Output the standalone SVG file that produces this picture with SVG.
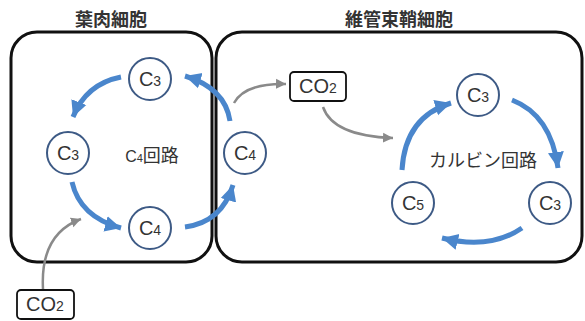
<svg xmlns="http://www.w3.org/2000/svg" width="585" height="321" viewBox="0 0 585 321">
<style>
.cell{fill:#fff;stroke:#111;stroke-width:3}
.node{fill:#fff;stroke:#3d5a85;stroke-width:2}
.lbl{font-family:"Liberation Sans",Arial,sans-serif;font-size:20px;fill:#333;text-anchor:middle}
.sub{font-size:14px}
.title{font-family:"Noto Sans CJK JP","Liberation Sans",sans-serif;font-size:18px;font-weight:bold;fill:#333;text-anchor:middle}
.cyc{font-family:"Noto Sans CJK JP","Liberation Sans",sans-serif;font-size:18px;fill:#333;text-anchor:middle}
.blue{fill:none;stroke:#4a86cc;stroke-width:5;marker-end:url(#ab)}
.gray{fill:none;stroke:#8a8a8a;stroke-width:2.5;marker-end:url(#ag)}
.box{fill:#fff;stroke:#111;stroke-width:1.8}
</style>
<defs>
<marker id="ab" markerUnits="userSpaceOnUse" markerWidth="18" markerHeight="18" viewBox="0 0 18 18" refX="16" refY="9" orient="auto"><path d="M0,1 L16,9 L0,17 Z" fill="#4a86cc"/></marker>
<marker id="ag" markerUnits="userSpaceOnUse" markerWidth="12" markerHeight="12" viewBox="0 0 12 12" refX="10" refY="6" orient="auto"><path d="M0,1 L10,6 L0,11 Z" fill="#8a8a8a"/></marker>
</defs>
<g id="mesophyll"><rect class="cell" x="11" y="32" width="201" height="230" rx="26"/><text class="title" x="111" y="26">葉肉細胞</text></g>
<g id="bundle"><rect class="cell" x="216" y="32" width="366" height="230" rx="26"/><text class="title" x="399" y="26">維管束鞘細胞</text></g>
<g id="c4label"><text class="cyc" x="152" y="162"><tspan font-family="Liberation Sans,sans-serif" font-size="16">C</tspan><tspan font-family="Liberation Sans,sans-serif" font-size="11">4</tspan>回路</text></g>
<g id="calvinlabel"><text class="cyc" x="483" y="167">カルビン回路</text></g>
<g id="connectors">
<path class="blue" d="M121,77 Q86,84 73,117"/>
<path class="blue" d="M72,182 Q80,217 121,228"/>
<path class="blue" d="M185,227 Q222,222 233,185"/>
<path class="blue" d="M230,121 Q225,88 185,76"/>
<path class="blue" d="M402,170 Q405,117 451,103"/>
<path class="blue" d="M512,100 Q551,115 558,168"/>
<path class="blue" d="M522,228 Q490,250 442,238"/>
<path class="gray" d="M43,289 Q40,234 81,219"/>
<path class="gray" d="M234,103 Q245,83 286,84"/>
<path class="gray" d="M323,107 Q333,136 393,138"/>
</g>
<g id="n_c3_top"><circle class="node" cx="150" cy="79" r="21"/><text class="lbl" x="150" y="86">C<tspan class="sub">3</tspan></text></g>
<g id="n_c3_left"><circle class="node" cx="68" cy="153" r="21"/><text class="lbl" x="68" y="160">C<tspan class="sub">3</tspan></text></g>
<g id="n_c4_bottom"><circle class="node" cx="150" cy="228" r="21"/><text class="lbl" x="150" y="235">C<tspan class="sub">4</tspan></text></g>
<g id="n_c4_mid"><circle class="node" cx="245" cy="153" r="21"/><text class="lbl" x="245" y="160">C<tspan class="sub">4</tspan></text></g>
<g id="n_c3_r_top"><circle class="node" cx="478" cy="95" r="21"/><text class="lbl" x="478" y="102">C<tspan class="sub">3</tspan></text></g>
<g id="n_c5"><circle class="node" cx="413" cy="203" r="21"/><text class="lbl" x="413" y="210">C<tspan class="sub">5</tspan></text></g>
<g id="n_c3_r_right"><circle class="node" cx="550" cy="203" r="21"/><text class="lbl" x="550" y="210">C<tspan class="sub">3</tspan></text></g>
<g id="co2_in"><rect class="box" x="17" y="290" width="57" height="29" rx="4"/><text class="lbl" x="45" y="311" font-size="17">CO<tspan class="sub" font-size="12">2</tspan></text></g>
<g id="co2_mid"><rect class="box" x="290" y="72" width="56" height="29" rx="4"/><text class="lbl" x="318" y="93" font-size="17">CO<tspan class="sub" font-size="12">2</tspan></text></g>
</svg>
